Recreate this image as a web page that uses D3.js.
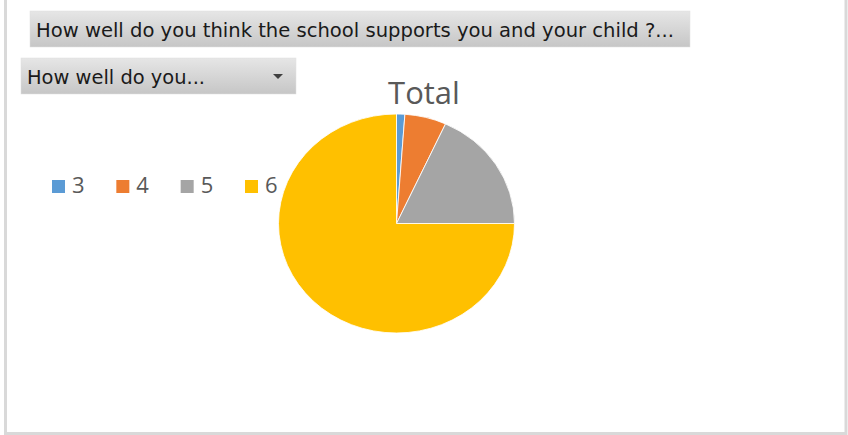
<!DOCTYPE html>
<html>
<head>
<meta charset="utf-8">
<script src="https://cdn.jsdelivr.net/npm/d3@7"></script>
<style>
  html, body { margin: 0; padding: 0; background: #fff; }
  svg { display: block; }
</style>
</head>
<body>
<svg id="chart" width="848" height="435"></svg>
<script>
const categories = ["3", "4", "5", "6"];
const values = [1, 5, 16, 66];
const colors = ["#5B9BD5", "#ED7D31", "#A5A5A5", "#FFC000"];
const chartTitle = "Total";
const filterLabel = "How well do you think the school supports you and your child ?...";
const dropdownLabel = "How well do you...";

const svg = d3.select("#chart");
const font = "'Open Sans', 'Noto Sans', 'Liberation Sans', sans-serif";
const btnFont = "'DejaVu Sans Condensed', 'Liberation Sans Narrow', 'Open Sans', sans-serif";

// gradient for buttons
const defs = svg.append("defs");
const grad = defs.append("linearGradient").attr("id", "btn").attr("x1", 0).attr("y1", 0).attr("x2", 0).attr("y2", 1);
grad.append("stop").attr("offset", "0%").attr("stop-color", "#e6e6e6");
grad.append("stop").attr("offset", "100%").attr("stop-color", "#c6c6c6");

// outer frame
svg.append("rect").attr("x", 5.5).attr("y", -10).attr("width", 840.5).attr("height", 443.5)
  .attr("fill", "#fff").attr("stroke", "#d9d9d9").attr("stroke-width", 3);

// filter button
svg.append("rect").attr("x", 30).attr("y", 11).attr("width", 660).attr("height", 36)
  .attr("fill", "url(#btn)").attr("stroke", "#e0e0e0").attr("stroke-width", 0.5);
svg.append("text").attr("x", 36).attr("y", 37).attr("font-family", btnFont).attr("font-size", 19)
  .attr("fill", "#1a1a1a").attr("textLength", 638).attr("lengthAdjust", "spacingAndGlyphs")
  .text(filterLabel);

// dropdown
svg.append("rect").attr("x", 21).attr("y", 58).attr("width", 275).attr("height", 36)
  .attr("fill", "url(#btn)").attr("stroke", "#e0e0e0").attr("stroke-width", 0.5);
svg.append("text").attr("x", 27).attr("y", 84).attr("font-family", btnFont).attr("font-size", 19)
  .attr("fill", "#1a1a1a").attr("textLength", 178).attr("lengthAdjust", "spacingAndGlyphs")
  .text(dropdownLabel);
svg.append("path").attr("d", "M273,74 L283,74 L278,79 Z").attr("fill", "#404040");

// title
svg.append("text").attr("x", 424).attr("y", 104).attr("text-anchor", "middle")
  .attr("font-family", font).attr("font-size", 31).attr("fill", "#595959")
  .text(chartTitle);

// pie
const cx = 396.5, cy = 223.5, ry = 109.5, rx = 118;
const pie = d3.pie().sort(null).value(d => d.v);
const arc = d3.arc().innerRadius(0).outerRadius(ry);
const data = categories.map((c, i) => ({ c, v: values[i], col: colors[i] }));
const g = svg.append("g").attr("transform", `translate(${cx},${cy}) scale(${rx / ry},1)`);
g.selectAll("path").data(pie(data)).join("path")
  .attr("d", arc)
  .attr("fill", d => d.data.col)
  .attr("stroke", "#fff").attr("stroke-width", 0.8);

// legend
const legendX = d3.scalePoint().domain(categories).range([52, 245]);
const lg = svg.append("g");
const items = lg.selectAll("g").data(data).join("g")
  .attr("transform", d => `translate(${legendX(d.c)},180)`);
items.append("rect").attr("width", 13).attr("height", 13).attr("fill", d => d.col);
items.append("text").attr("x", 20).attr("y", 13).attr("font-family", font).attr("font-size", 22)
  .attr("fill", "#595959").text(d => d.c);
</script>
</body>
</html>
